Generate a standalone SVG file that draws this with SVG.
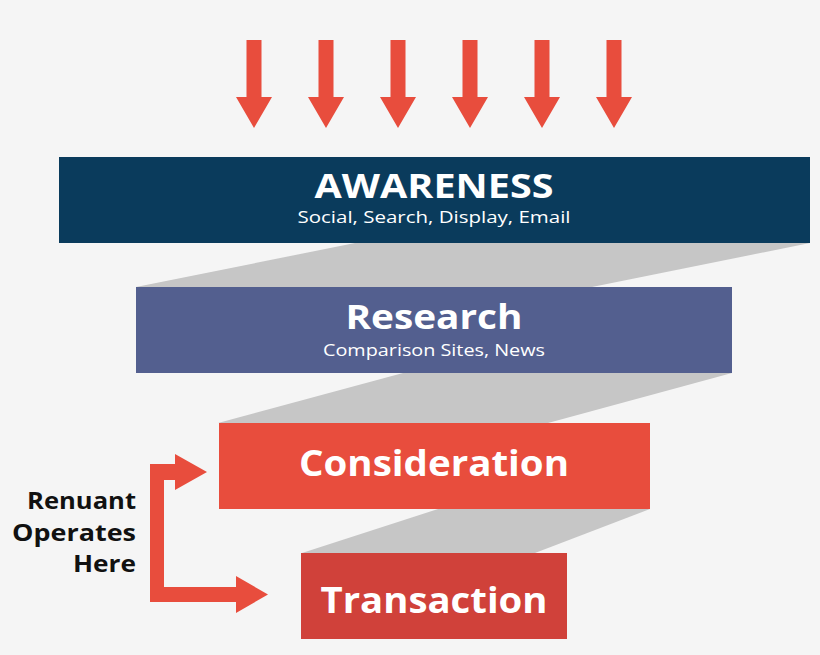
<svg xmlns="http://www.w3.org/2000/svg" width="820" height="655" viewBox="0 0 820 655">
<style>
.t{font-family:"Open Sans",Lato,sans-serif;font-weight:700;fill:#fff;text-anchor:middle}
.s{font-family:"Open Sans",Lato,sans-serif;font-weight:400;fill:#fff;text-anchor:middle;font-size:16px}
.g{fill:#c6c6c6}
.a{fill:#e84d3d}
.l{font-family:"Open Sans",Lato,sans-serif;font-weight:700;fill:#111;text-anchor:end;font-size:23px}
</style>
<defs>
<path id="dn" d="M-7.5 0H7.5V57H18L0 88L-18 57H-7.5Z"/>
</defs>
<rect width="820" height="655" fill="#f5f5f5"/>
<g id="bands">
<polygon class="g" points="355,243 810,243 592,287 136,287"/>
<polygon class="g" points="403,373 732,373 548,423 218,423"/>
<polygon class="g" points="438,509 650,509 535,553 302,553"/>
</g>
<g id="arrows" class="a">
<use href="#dn" x="254" y="40"/>
<use href="#dn" x="326" y="40"/>
<use href="#dn" x="398" y="40"/>
<use href="#dn" x="470" y="40"/>
<use href="#dn" x="542" y="40"/>
<use href="#dn" x="614" y="40"/>
</g>
<g id="awareness">
<rect x="59" y="157" width="751" height="86" fill="#0a3b5c"/>
<text class="t" x="434" y="198" font-size="34" textLength="239" lengthAdjust="spacingAndGlyphs">AWARENESS</text>
<text class="s" x="434" y="223" textLength="273" lengthAdjust="spacingAndGlyphs">Social, Search, Display, Email</text>
</g>
<g id="research">
<rect x="136" y="287" width="596" height="86" fill="#535f8f"/>
<text class="t" x="434" y="329" font-size="34" textLength="177" lengthAdjust="spacingAndGlyphs">Research</text>
<text class="s" x="434" y="356" textLength="222" lengthAdjust="spacingAndGlyphs">Comparison Sites, News</text>
</g>
<g id="consideration">
<rect x="219" y="423" width="431" height="86" fill="#e84d3d"/>
<text class="t" x="434" y="476" font-size="36" textLength="270" lengthAdjust="spacingAndGlyphs">Consideration</text>
</g>
<g id="transaction">
<rect x="301" y="553" width="266" height="86" fill="#d0413a"/>
<text class="t" x="434" y="613" font-size="36" textLength="227" lengthAdjust="spacingAndGlyphs">Transaction</text>
</g>
<g id="connectors">
<path class="a" d="M150 464H175V454L207 472L175 490V480H164V587H236V576L268 594.5L236 613V602H150Z"/>
</g>
<g id="label">
<text class="l" x="136" y="509" textLength="109" lengthAdjust="spacingAndGlyphs">Renuant</text>
<text class="l" x="136" y="541" textLength="124" lengthAdjust="spacingAndGlyphs">Operates</text>
<text class="l" x="136" y="572" textLength="63" lengthAdjust="spacingAndGlyphs">Here</text>
</g>
</svg>
